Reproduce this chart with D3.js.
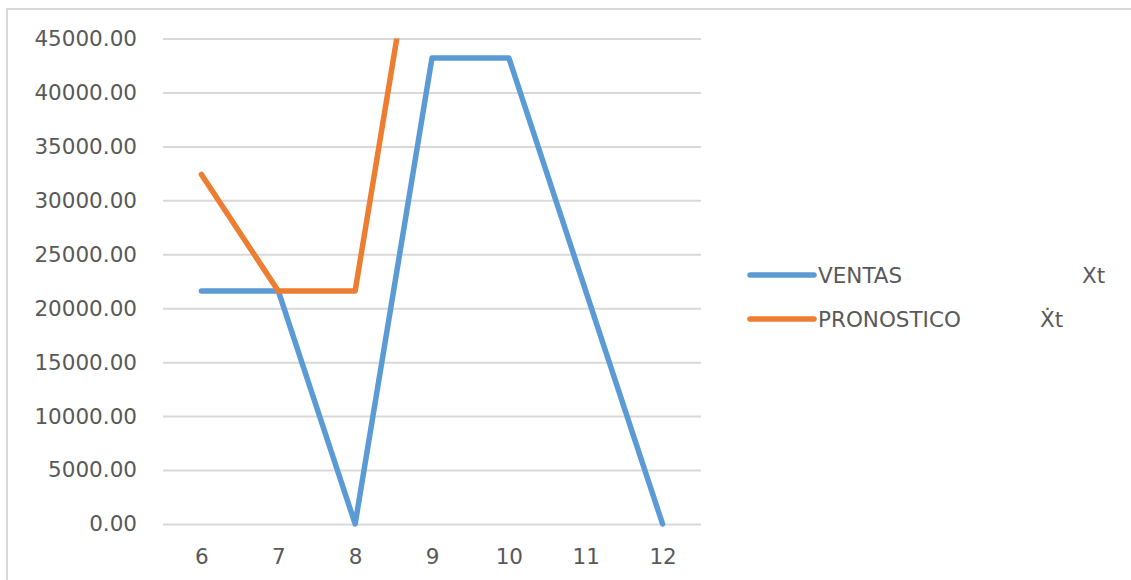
<!DOCTYPE html>
<html>
<head>
<meta charset="utf-8">
<script src="https://cdn.jsdelivr.net/npm/d3@7"></script>
<style>
  html, body { margin: 0; padding: 0; background: #fff; }
  svg { display: block; }
  text { font-family: "DejaVu Sans", sans-serif; fill: #595959; }
</style>
</head>
<body>
<svg id="chart" width="1131" height="580"></svg>
<script>
// Periods on the category axis
const periods = [6, 7, 8, 9, 10, 11, 12];
// Actual sales (Xt)
const ventas = [21600, 21600, 0, 43200, 43200, 21600, 0];
// Forecast (Ẋt); beyond period 9 it runs above the axis range
const pronostico = [32400, 21600, 21600, 64800, null, null, null];
// Value axis ticks
const yTicks = [0, 5000, 10000, 15000, 20000, 25000, 30000, 35000, 40000, 45000];
// Legend entries
const seriesNames = ["VENTAS", "PRONOSTICO"];
const seriesSymbols = ["Xt", "Ẋt"];
const seriesColors = ["#5B9BD5", "#ED7D31"];

const W = 1131, H = 580;
const plot = { left: 163, right: 701, top: 38.5, bottom: 524 };

const svg = d3.select("#chart");

// Chart area outline
svg.append("rect")
  .attr("x", 7).attr("y", 9)
  .attr("width", W + 20).attr("height", H + 20)
  .attr("fill", "#fff")
  .attr("stroke", "#D9D9D9").attr("stroke-width", 2);

const x = d3.scalePoint()
  .domain(periods)
  .range([plot.left, plot.right])
  .padding(0.5);

const y = d3.scaleLinear()
  .domain([0, 45000])
  .range([plot.bottom, plot.top]);

// Horizontal gridlines + value labels
const yAxis = d3.axisLeft(y)
  .tickValues(yTicks)
  .tickSize(-(plot.right - plot.left))
  .tickPadding(26)
  .tickFormat(d3.format(".2f"));

const gy = svg.append("g")
  .attr("transform", `translate(${plot.left},0)`)
  .call(yAxis);
gy.select(".domain").remove();
gy.selectAll(".tick line").attr("stroke", "#D9D9D9").attr("stroke-width", 2);
gy.selectAll(".tick text")
  .attr("fill", "#636363")
  .style("font-size", "21.5px")
  .style("font-family", "'DejaVu Sans', sans-serif");

// Category labels
const xAxis = d3.axisBottom(x).tickSize(0).tickPadding(25);
const gx = svg.append("g")
  .attr("transform", `translate(0,${plot.bottom})`)
  .call(xAxis);
gx.select(".domain").remove();
gx.selectAll(".tick text")
  .attr("fill", "#636363")
  .style("font-size", "21.5px")
  .style("font-family", "'DejaVu Sans', sans-serif");

// Clip lines to the plot area
svg.append("clipPath").attr("id", "plotClip")
  .append("rect")
  .attr("x", 0).attr("y", plot.top)
  .attr("width", W).attr("height", plot.bottom - plot.top + 10);

const line = d3.line()
  .defined(d => d.v !== null)
  .x(d => x(d.p))
  .y(d => y(d.v));

const series = [ventas, pronostico].map((vals, i) => ({
  color: seriesColors[i],
  points: periods.map((p, j) => ({ p, v: vals[j] }))
}));

svg.append("g").attr("clip-path", "url(#plotClip)")
  .selectAll("path")
  .data(series)
  .join("path")
  .attr("d", d => line(d.points))
  .attr("fill", "none")
  .attr("stroke", d => d.color)
  .attr("stroke-width", 5.5)
  .attr("stroke-linejoin", "round")
  .attr("stroke-linecap", "round");

// Legend
const legend = svg.append("g");
const rowY = [275, 319];
seriesNames.forEach((name, i) => {
  const g = legend.append("g").attr("transform", `translate(0,${rowY[i]})`);
  g.append("line")
    .attr("x1", 750).attr("x2", 814)
    .attr("stroke", seriesColors[i]).attr("stroke-width", 5.5)
    .attr("stroke-linecap", "round");
  g.append("text")
    .attr("x", 818).attr("dy", "0.36em")
    .attr("fill", "#636363")
    .style("font-size", "21.5px")
    .text(name);
  g.append("text")
    .attr("x", i === 0 ? 1082 : 1040).attr("dy", "0.36em")
    .attr("fill", "#636363")
    .style("font-size", "21.5px")
    .text(seriesSymbols[i]);
});
</script>
</body>
</html>
